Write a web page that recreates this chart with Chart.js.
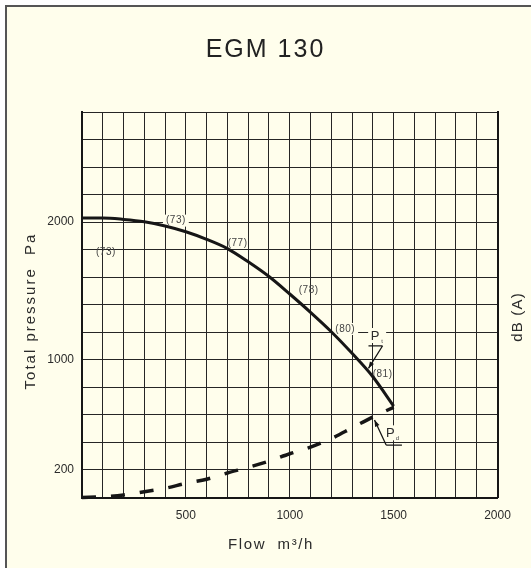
<!DOCTYPE html>
<html>
<head>
<meta charset="utf-8">
<title>EGM 130</title>
<script src="https://cdn.jsdelivr.net/npm/chart.js@4.4.1/dist/chart.umd.min.js"></script>
<style>
  html, body { margin: 0; padding: 0; background: #ffffff; }
  canvas { display: block; }
</style>
</head>
<body>
<canvas id="chart" width="531" height="568"></canvas>
<script>
const flow = [0, 100, 200, 300, 400, 500, 600, 700, 800, 900, 1000, 1100, 1200, 1300, 1400, 1500];
const totalPressure = [2030, 2030, 2020, 2003, 1972, 1930, 1875, 1808, 1712, 1605, 1478, 1345, 1204, 1047, 877, 664];
const dynamicPressure = [0, 5, 18, 42, 67, 103, 133, 178, 219, 264, 318, 366, 428, 506, 585, 655];
const flowTickLabels = [500, 1000, 1500, 2000];
const pressureTickLabels = [200, 1000, 2000];

// noise levels dB(A) written along the curve, anchored in flow / pressure units
const noiseText = ["(73)", "(73)", "(77)", "(78)", "(80)", "(81)"];
const noiseAt = [[452, 2011, true], [115, 1778, false], [749, 1846, false], [1091, 1502, false], [1267, 1224, true], [1447, 897, false]];

const FONT = "'Liberation Sans', Arial, sans-serif";
const colors = {
  paper: "#fffeec",
  frame: "#555555",
  grid: "#262626",
  line: "#161616",
  text: "#2b2b2b",
  note: "#444444",
};

function note(ctx, x, y, text, size, bg, color) {
  ctx.font = `${size}px ${FONT}`;
  const w = ctx.measureText(text).width;
  if (bg) {
    ctx.fillStyle = colors.paper;
    ctx.fillRect(x - w / 2 - 3, y - size / 2 - 1, w + 6, size + 2);
  }
  ctx.fillStyle = color || colors.note;
  ctx.textAlign = "center";
  ctx.textBaseline = "middle";
  ctx.fillText(text, x, y);
}

function pointer(ctx, label, sub, textPos, lineFrom, lineTo, tip) {
  ctx.fillStyle = colors.paper;
  ctx.fillRect(textPos[0] - 7, textPos[1] - 8, 18, 15);
  note(ctx, textPos[0], textPos[1], label, 13, false, colors.text);
  note(ctx, textPos[0] + 7, textPos[1] + 5, sub, 6, false, colors.note);
  ctx.strokeStyle = colors.line;
  ctx.lineWidth = 1.3;
  ctx.beginPath();
  ctx.moveTo(lineFrom[0], lineFrom[1]);
  ctx.lineTo(lineTo[0], lineTo[1]);
  ctx.moveTo(lineFrom[0], lineFrom[1]);
  ctx.lineTo(tip[0], tip[1]);
  ctx.stroke();
  const a = Math.atan2(tip[1] - lineFrom[1], tip[0] - lineFrom[0]);
  ctx.fillStyle = colors.line;
  ctx.beginPath();
  ctx.moveTo(tip[0], tip[1]);
  ctx.lineTo(tip[0] - 7 * Math.cos(a - 0.35), tip[1] - 7 * Math.sin(a - 0.35));
  ctx.lineTo(tip[0] - 7 * Math.cos(a + 0.35), tip[1] - 7 * Math.sin(a + 0.35));
  ctx.closePath();
  ctx.fill();
}

function axisText(ctx, text, x, y, angle, spacing) {
  ctx.save();
  ctx.letterSpacing = spacing;
  ctx.translate(x, y);
  ctx.rotate(angle);
  ctx.font = `15px ${FONT}`;
  ctx.fillStyle = colors.text;
  ctx.textAlign = "center";
  ctx.textBaseline = "middle";
  ctx.fillText(text, 0, 0);
  ctx.restore();
}

const framePlugin = {
  id: "frame",
  beforeDraw(chart) {
    const ctx = chart.ctx;
    ctx.save();
    ctx.fillStyle = colors.paper;
    ctx.fillRect(6, 6, chart.width - 6, chart.height - 6);
    ctx.fillStyle = colors.frame;
    ctx.fillRect(5, 5, chart.width - 5, 2);
    ctx.fillRect(5, 5, 2, chart.height - 5);
    ctx.restore();
    // the chart title is drawn with a little tracking, like the sheet
    ctx.letterSpacing = "2px";
  },
  beforeDatasetsDraw(chart) {
    const ctx = chart.ctx;
    const xs = chart.scales.x;
    const ys = chart.scales.y;
    const px = (f) => xs.getPixelForValue(f);
    const py = (p) => ys.getPixelForValue(p);
    ctx.letterSpacing = "0px";
    ctx.save();
    ctx.letterSpacing = "0.5px";
    noiseText.forEach((t, i) => {
      note(ctx, px(noiseAt[i][0]), py(noiseAt[i][1]), t, 10, noiseAt[i][2]);
    });
    ctx.letterSpacing = "0px";
    pointer(ctx, "P", "t", [px(1411), py(1173)], [px(1447), py(1102)], [px(1379), py(1102)], [px(1379), py(938)]);
    pointer(ctx, "P", "d", [px(1484), py(466)], [px(1464), py(381)], [px(1540), py(381)], [px(1408), py(563)]);
    ctx.restore();
  },
  afterDatasetsDraw(chart) {
    const ctx = chart.ctx;
    axisText(ctx, "Total pressure  Pa", 31, 311, -Math.PI / 2, "2px");
    axisText(ctx, "Flow  m³/h", 271, 545, 0, "1.6px");
    axisText(ctx, "dB (A)", 518, 317, -Math.PI / 2, "1.2px");
  },
};

const tickFont = { family: FONT, size: 12 };

new Chart(document.getElementById("chart"), {
  type: "line",
  data: {
    datasets: [
      {
        label: "Pt",
        data: flow.map((f, i) => ({ x: f, y: totalPressure[i] })),
        borderColor: colors.line,
        borderWidth: 3,
        pointRadius: 0,
        cubicInterpolationMode: "monotone",
        fill: false,
        clip: false,
      },
      {
        label: "Pd",
        data: flow.map((f, i) => ({ x: f, y: dynamicPressure[i] })),
        borderColor: colors.line,
        borderWidth: 3.5,
        borderDash: [14, 15],
        pointRadius: 0,
        cubicInterpolationMode: "monotone",
        fill: false,
        clip: false,
      },
    ],
  },
  options: {
    responsive: false,
    animation: false,
    events: [],
    layout: { padding: 0 },
    plugins: {
      legend: { display: false },
      tooltip: { enabled: false },
      title: {
        display: true,
        text: "EGM 130",
        color: "#222222",
        font: { family: FONT, size: 25, weight: "normal" },
        padding: { top: 35, bottom: 47 },
      },
    },
    scales: {
      x: {
        type: "linear",
        min: 0,
        max: 2000,
        afterFit: (s) => { s.height = 70.5; },
        ticks: {
          stepSize: 100,
          autoSkip: false,
          maxRotation: 0,
          padding: 11,
          z: 1,
          color: colors.text,
          font: tickFont,
          callback: (v) => (flowTickLabels.includes(v) ? String(v) : ""),
        },
        grid: { color: colors.grid, lineWidth: 1, drawTicks: false },
        border: { color: colors.line, width: 2, z: 1 },
      },
      y: {
        type: "linear",
        min: 0,
        max: 2800,
        afterFit: (s) => { s.width = 82; },
        ticks: {
          stepSize: 200,
          autoSkip: false,
          padding: 8,
          z: 1,
          color: colors.text,
          font: tickFont,
          callback: (v) => (pressureTickLabels.includes(v) ? String(v) : ""),
        },
        grid: { color: colors.grid, lineWidth: 1, drawTicks: false },
        border: { color: colors.line, width: 2, z: 1 },
      },
      y2: {
        type: "linear",
        position: "right",
        min: 0,
        max: 2800,
        afterFit: (s) => { s.width = 33.5; },
        ticks: { display: false },
        grid: { display: false, drawTicks: false },
        border: { color: colors.line, width: 2, z: 1 },
      },
    },
  },
  plugins: [framePlugin],
});
</script>
</body>
</html>
